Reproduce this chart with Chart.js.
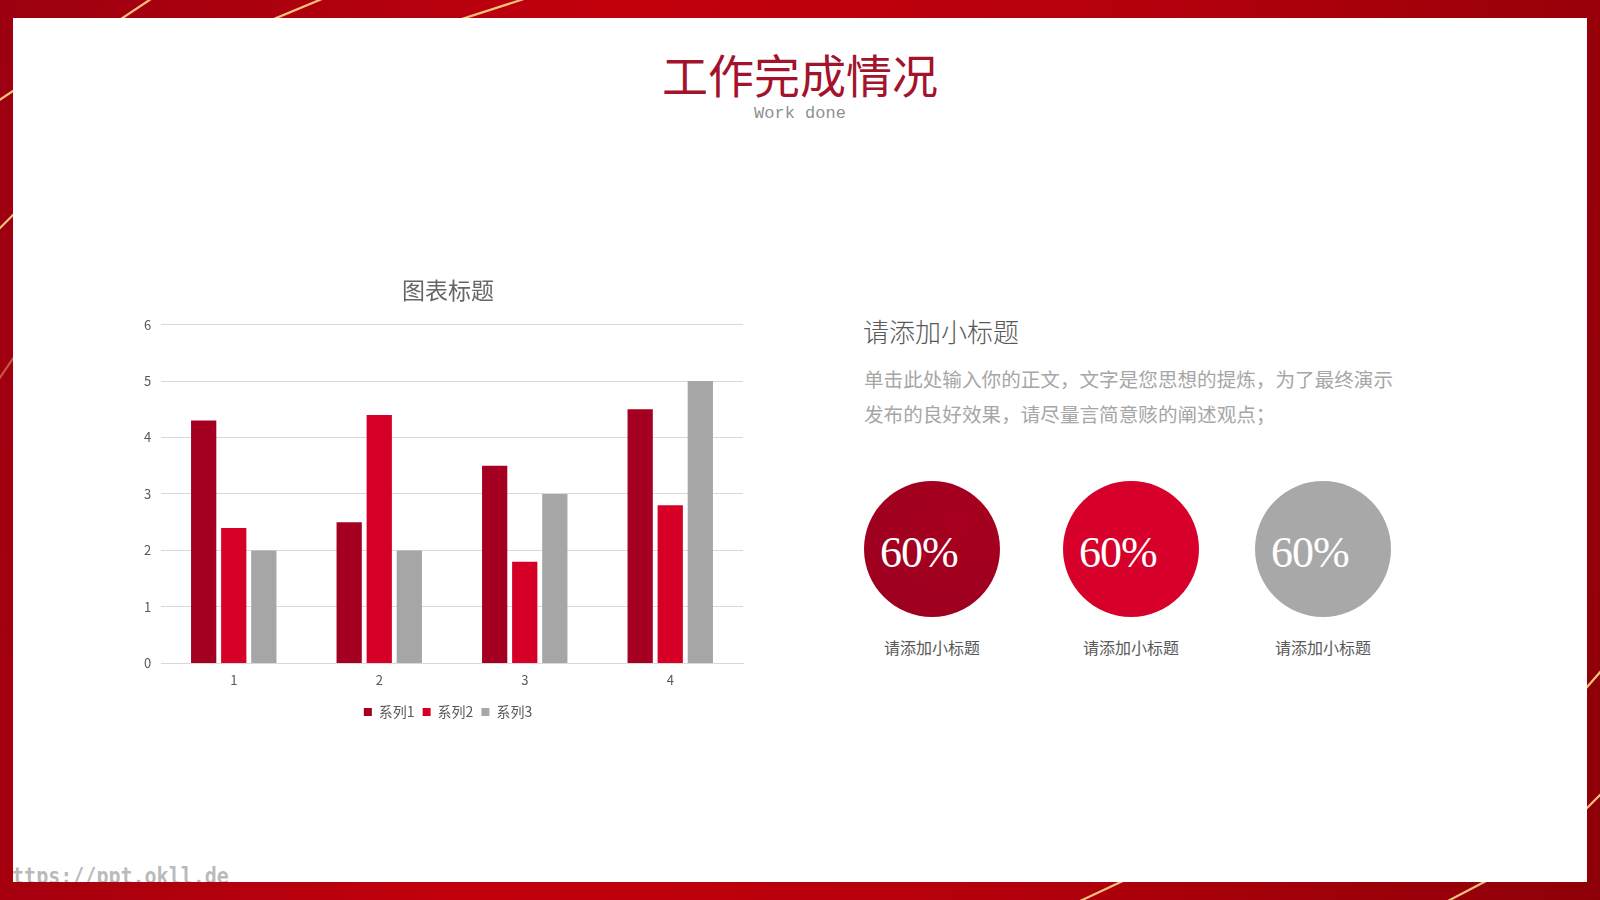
<!DOCTYPE html>
<html lang="zh">
<head>
<meta charset="utf-8">
<title>工作完成情况</title>
<script src="https://cdn.jsdelivr.net/npm/chart.js@4/dist/chart.umd.min.js"></script>
<style>
  html, body { margin: 0; padding: 0; }
  body {
    width: 1600px; height: 900px; position: relative; overflow: hidden;
    background: linear-gradient(100deg, #9c0010 0%, #c2000c 35%, #b5000c 65%, #8e0008 100%);
    font-family: "Noto Sans CJK SC", "Noto Sans", sans-serif;
  }
  #deco { position: absolute; left: 0; top: 0; }
  .panel {
    position: absolute; left: 13px; top: 18px; width: 1574px; height: 864px;
    background: #fff; overflow: hidden;
  }
  .title {
    position: absolute; left: 0; width: 1600px; top: 43px; text-align: center;
    font-size: 46px; line-height: 60px; color: #a3132c; font-weight: 400;
  }
  .sub {
    position: absolute; left: 0; width: 1600px; top: 103px; text-align: center;
    font-family: "Liberation Mono", monospace; font-size: 17px; line-height: 22px; color: #8f8f8f;
  }
  #chartBox { position: absolute; left: 120px; top: 270px; width: 640px; height: 463px; }
  .h2 { position: absolute; left: 863px; top: 314px; font-size: 26px; line-height: 34px; color: #595959; font-weight: 300; }
  .para { position: absolute; left: 864px; top: 361px; width: 545px; font-size: 19.6px; line-height: 35px; color: #a6a6a6; }
  .circ {
    position: absolute; width: 136px; height: 136px; border-radius: 50%; top: 481px;
  }
  .circ span {
    position: absolute; left: 16px; top: 42px; color: #fff;
    font-family: "Liberation Serif", "DejaVu Serif", serif; font-size: 44px; line-height: 60px; letter-spacing: -1px;
  }
  .cap { position: absolute; top: 635px; width: 136px; text-align: center; font-size: 16px; line-height: 24px; color: #595959; }
  .wm {
    position: absolute; left: -13px; top: 845px; font-family: "DejaVu Sans Mono", monospace; font-weight: bold;
    font-size: 23px; line-height: 26px; color: rgba(140,140,140,0.6);
    transform: scaleX(0.87); transform-origin: left top; white-space: nowrap;
  }
</style>
</head>
<body>
<svg id="deco" width="1600" height="900">
  <g stroke="#f4c27c" stroke-width="2.2" fill="none">
    <line x1="-2" y1="101" x2="151" y2="-1"/>
    <line x1="240" y1="33" x2="322" y2="-1"/>
    <line x1="440" y1="26" x2="524" y2="-1"/>
    <line x1="-1" y1="229" x2="14" y2="214"/>
    <line x1="-1" y1="379" x2="14" y2="357" stroke-opacity="0.45"/>
    <line x1="1580" y1="695" x2="1602" y2="670"/>
    <line x1="1580" y1="815" x2="1602" y2="793"/>
    <line x1="1078" y1="902" x2="1125" y2="880"/>
    <line x1="1446" y1="902" x2="1488" y2="880"/>
  </g>
</svg>

<div class="panel">
  <div class="wm">https://ppt.okll.de</div>
</div>

<div class="title">工作完成情况</div>
<div class="sub">Work done</div>

<div id="chartBox"><canvas id="barChart"></canvas></div>

<div class="h2">请添加小标题</div>
<div class="para">单击此处输入你的正文，文字是您思想的提炼，为了最终演示发布的良好效果，请尽量言简意赅的阐述观点；</div>

<div class="circ" style="left:864px;background:radial-gradient(circle at 70% 30%, #a8001f, #a0001f 60%, #9a001d);"><span>60%</span></div>
<div class="circ" style="left:1063px;background:#d6002a;"><span>60%</span></div>
<div class="circ" style="left:1255px;background:#a9a8a9;"><span>60%</span></div>
<div class="cap" style="left:864px;">请添加小标题</div>
<div class="cap" style="left:1063px;">请添加小标题</div>
<div class="cap" style="left:1255px;">请添加小标题</div>

<script>
const categories = ['1', '2', '3', '4'];
const seriesNames = ['系列1', '系列2', '系列3'];
const series1 = [4.3, 2.5, 3.5, 4.5];
const series2 = [2.4, 4.4, 1.8, 2.8];
const series3 = [2, 2, 3, 5];
const seriesColors = ['#a50021', '#d60027', '#a6a6a6'];
const yTicks = [0, 1, 2, 3, 4, 5, 6];

const textGray = '#595959';
const fontFam = '"Noto Sans CJK SC", "Noto Sans", sans-serif';

const ctx = document.getElementById('barChart').getContext('2d');
new Chart(ctx, {
    type: 'bar',
    data: {
        labels: categories,
        datasets: [series1, series2, series3].map((vals, i) => ({
            label: seriesNames[i],
            data: vals,
            backgroundColor: seriesColors[i],
            borderWidth: 0,
            categoryPercentage: 0.62,
            barPercentage: 0.84
        }))
    },
    options: {
        responsive: true,
        maintainAspectRatio: false,
        animation: false,
        layout: { padding: { left: 33, right: 17, top: 6, bottom: 4 } },
        plugins: {
            title: {
                display: true,
                text: '图表标题',
                color: '#666666',
                font: { family: fontFam, size: 23, weight: 'normal' },
                padding: { top: 0, bottom: 21 }
            },
            legend: {
                position: 'bottom',
                labels: {
                    color: textGray,
                    font: { family: fontFam, size: 14 },
                    boxWidth: 8,
                    boxHeight: 8,
                    padding: 8
                }
            },
            tooltip: { enabled: false }
        },
        scales: {
            x: {
                grid: { display: false, drawTicks: false },
                border: { color: '#d9d9d9', width: 1 },
                ticks: { color: textGray, font: { family: fontFam, size: 13 }, padding: 9 }
            },
            y: {
                min: yTicks[0],
                max: yTicks[yTicks.length - 1],
                afterBuildTicks: axis => { axis.ticks = yTicks.map(v => ({ value: v })); },
                // narrow axis box so title and legend centre over the plot like the original;
                // mirrored labels pushed back out to the left so they are not clipped
                afterFit: axis => { axis.width = 8; },
                grid: { color: '#d9d9d9', drawTicks: false },
                border: { display: false },
                ticks: {
                    color: textGray,
                    font: { family: fontFam, size: 13 },
                    mirror: true,
                    crossAlign: 'far',
                    padding: -17
                }
            }
        }
    }
});
</script>
</body>
</html>
